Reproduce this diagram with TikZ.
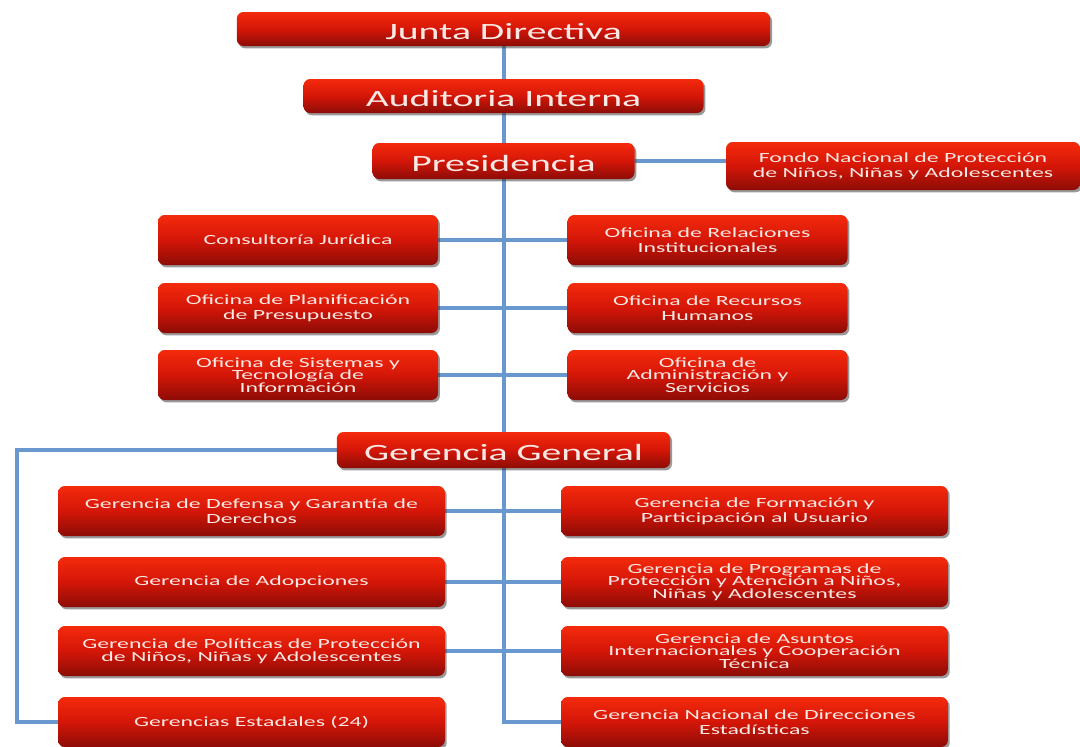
\documentclass[tikz,border=0pt]{standalone}
\usepackage{fontspec}
\setmainfont{Carlito}[FakeStretch=1.7]
\usetikzlibrary{shadows}
\usetikzlibrary{backgrounds}

\definecolor{boxtop}{RGB}{244,42,12}
\definecolor{boxmid}{RGB}{212,22,8}
\definecolor{boxbot}{RGB}{140,12,6}
\definecolor{boxtext}{RGB}{250,232,228}
\definecolor{linkblue}{RGB}{104,152,206}

\tikzset{
    orgbox/.style={rounded corners=5pt, top color=boxtop, bottom color=boxbot,
        middle color=boxmid, text=boxtext, align=center, inner sep=0pt,
        drop shadow={shadow xshift=1.4pt, shadow yshift=-1.8pt, opacity=0.5, fill=black!80}},
    bigbox/.style={orgbox, font=\fontsize{17.5}{20}\selectfont, text height=16pt, text depth=0pt},
    smallbox/.style={orgbox, font=\fontsize{10.5}{11.3}\selectfont, minimum height=37.5pt},
    tightbox/.style={smallbox, font=\fontsize{10.5}{9.4}\selectfont},
    link/.style={draw=linkblue, line width=3pt}
}

\begin{document}
\begin{tikzpicture}[x=0.75pt,y=-0.75pt]
\useasboundingbox (0,0) rectangle (1080,746);

% top of the chart
\node[bigbox, minimum width=400pt, minimum height=25.5pt] (jd) at (503.5,29) {Junta Directiva};
\node[bigbox, minimum width=300pt, minimum height=25.5pt] (ai) at (503.5,96) {Auditoria Interna};
\node[bigbox, minimum width=196.5pt, minimum height=27pt] (pr) at (503.5,161) {Presidencia};
\node[orgbox, font=\fontsize{10.5}{11.3}\selectfont, minimum width=265.5pt, minimum height=36pt] (fn) at (903,166)
    {Fondo Nacional de Protección\\de Niños, Niñas y Adolescentes};

% offices
\node[smallbox, minimum width=210pt] (cj) at (298,240) {Consultoría Jurídica};
\node[smallbox, minimum width=210pt] (ri) at (707.5,240) {Oficina de Relaciones\\Institucionales};
\node[smallbox, minimum width=210pt] (pp) at (298,308) {Oficina de Planificación\\de Presupuesto};
\node[smallbox, minimum width=210pt] (rh) at (707.5,308) {Oficina de Recursos\\Humanos};
\node[tightbox, minimum width=210pt] (st) at (298,375) {Oficina de Sistemas y\\Tecnología de\\Información};
\node[tightbox, minimum width=210pt] (as) at (707.5,375) {Oficina de\\Administración y\\Servicios};

\node[bigbox, minimum width=250pt, minimum height=27pt] (gg) at (503.5,450) {Gerencia General};

% gerencias
\node[smallbox, minimum width=290pt] (dg) at (251.5,511) {Gerencia de Defensa y Garantía de\\Derechos};
\node[smallbox, minimum width=290pt] (ad) at (251.5,582) {Gerencia de Adopciones};
\node[smallbox, font=\fontsize{10.5}{10}\selectfont, minimum width=290pt] (pn) at (251.5,651)
    {Gerencia de Políticas de Protección\\de Niños, Niñas y Adolescentes};
\node[smallbox, minimum width=290pt] (ge) at (251.5,722) {Gerencias Estadales (24)};
\node[smallbox, minimum width=290pt] (fp) at (754.5,511) {Gerencia de Formación y\\Participación al Usuario};
\node[tightbox, minimum width=290pt] (pa) at (754.5,582) {Gerencia de Programas de\\Protección y Atención a Niños,\\Niñas y Adolescentes};
\node[tightbox, minimum width=290pt] (ac) at (754.5,651) {Gerencia de Asuntos\\Internacionales y  Cooperación\\Técnica};
\node[smallbox, minimum width=290pt] (dn) at (754.5,722) {Gerencia Nacional de Direcciones\\Estadísticas};

\coordinate (lc) at (17,722);

\begin{scope}[on background layer]
    \draw[link] (jd) -- (ai);
    \draw[link] (ai) -- (pr);
    \draw[link] (pr) -- (gg);
    \draw[link] (pr.east) -- (pr.east -| fn.west);
    \draw[link] (cj) -- (ri);
    \draw[link] (pp) -- (rh);
    \draw[link] (st) -- (as);
    \draw[link] (gg.south) |- (dn.west);
    \draw[link] (gg.west) -| (lc) -- (ge.west);
    \draw[link] (dg) -- (fp);
    \draw[link] (ad) -- (pa);
    \draw[link] (pn) -- (ac);
\end{scope}
\end{tikzpicture}
\end{document}
